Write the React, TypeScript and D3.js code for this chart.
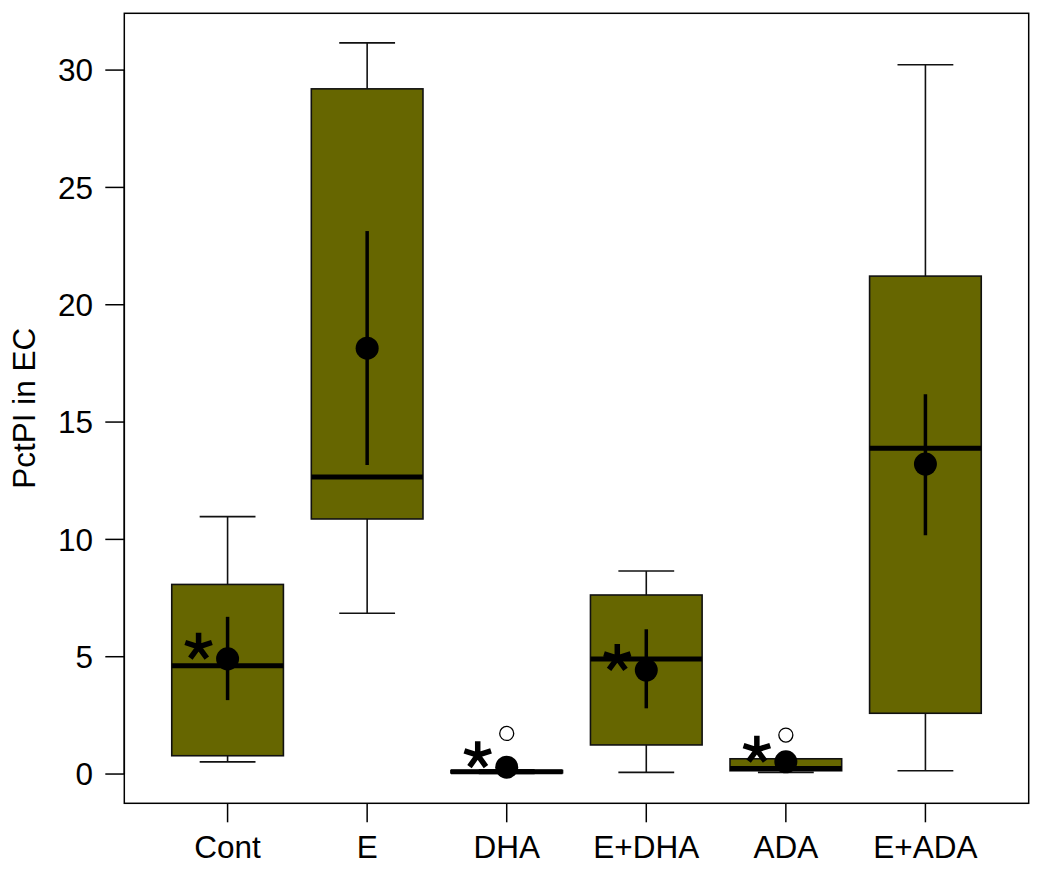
import React from "react";
import * as d3 from "d3";

const categories = ["Cont", "E", "DHA", "E+DHA", "ADA", "E+ADA"];
const whiskerLow = [0.52, 6.85, 0.02, 0.07, 0.07, 0.14];
const q1 = [0.78, 10.87, 0.05, 1.24, 0.14, 2.59];
const median = [4.62, 12.66, 0.1, 4.9, 0.24, 13.88];
const q3 = [8.08, 29.2, 0.15, 7.63, 0.65, 21.22];
const whiskerHigh = [10.97, 31.16, 0.18, 8.65, 0.65, 30.23];
const meanVals = [4.91, 18.15, 0.29, 4.43, 0.52, 13.21];
const errLow = [3.15, 13.17, 0.2, 2.8, 0.4, 10.18];
const errHigh = [6.7, 23.14, 0.38, 6.17, 0.64, 16.19];
const outliers: (number | null)[] = [null, null, 1.73, null, 1.66, null];
const starred = [true, false, true, true, true, false];
const yTicks = [0, 5, 10, 15, 20, 25, 30];

const FONT = "'Liberation Sans', Arial, Helvetica, sans-serif";
const OLIVE = "#666600";

export default function App() {
  const left = 124.3, right = 1028.7, top = 13.3, bottom = 803.3;
  const x = d3.scaleLinear().domain([0.26, 6.74]).range([left, right]);
  const y = d3.scaleLinear().domain([-1.247, 32.42]).range([bottom, top]);
  const bw = x(0.4) - x(0);
  const sw = x(0.2) - x(0);

  const starPath = (cx: number, cy: number) => {
    const r = 14;
    const angles = [90, 18, -54, -126, 162];
    return angles
      .map((a) => {
        const rad = (a * Math.PI) / 180;
        return `M${cx},${cy}L${cx + r * Math.cos(rad)},${cy - r * Math.sin(rad)}`;
      })
      .join("");
  };

  return (
    <svg
      width={1050}
      height={890}
      style={{ position: "absolute", left: 0, top: 0, background: "#fff" }}
      fontFamily={FONT}
    >
      {/* y axis */}
      <line x1={left} x2={left} y1={y(0)} y2={y(30)} stroke="#000" strokeWidth={1.5} />
      {yTicks.map((t) => (
        <g key={t}>
          <line x1={left - 19} x2={left} y1={y(t)} y2={y(t)} stroke="#000" strokeWidth={1.5} />
          <text x={93} y={y(t)} dy="0.36em" textAnchor="end" fontSize={31.5}>
            {t}
          </text>
        </g>
      ))}
      <text
        transform={`translate(35,${(top + bottom) / 2}) rotate(-90)`}
        textAnchor="middle"
        fontSize={31.5}
      >
        PctPI in EC
      </text>

      {/* x axis ticks & labels */}
      {categories.map((c, i) => (
        <g key={c}>
          <line x1={x(i + 1)} x2={x(i + 1)} y1={bottom} y2={bottom + 19} stroke="#000" strokeWidth={1.5} />
          <text x={x(i + 1)} y={858} textAnchor="middle" fontSize={31.5}>
            {c}
          </text>
        </g>
      ))}

      {/* boxes */}
      {categories.map((c, i) => {
        const cx = x(i + 1);
        return (
          <g key={"b" + c}>
            <line x1={cx} x2={cx} y1={y(q3[i])} y2={y(whiskerHigh[i])} stroke="#111" strokeWidth={1.6} />
            <line x1={cx} x2={cx} y1={y(q1[i])} y2={y(whiskerLow[i])} stroke="#111" strokeWidth={1.6} />
            <line x1={cx - sw} x2={cx + sw} y1={y(whiskerHigh[i])} y2={y(whiskerHigh[i])} stroke="#111" strokeWidth={1.6} />
            <line x1={cx - sw} x2={cx + sw} y1={y(whiskerLow[i])} y2={y(whiskerLow[i])} stroke="#111" strokeWidth={1.6} />
            <rect
              x={cx - bw}
              width={2 * bw}
              y={y(q3[i])}
              height={y(q1[i]) - y(q3[i])}
              fill={OLIVE}
              stroke="#111"
              strokeWidth={1.6}
            />
            <line x1={cx - bw} x2={cx + bw} y1={y(median[i])} y2={y(median[i])} stroke="#000" strokeWidth={5} />
          </g>
        );
      })}

      {/* means, error bars, stars, outliers */}
      {categories.map((c, i) => {
        const cx = x(i + 1);
        const my = y(meanVals[i]);
        const o = outliers[i];
        return (
          <g key={"m" + c}>
            <line x1={cx} x2={cx} y1={y(errLow[i])} y2={y(errHigh[i])} stroke="#000" strokeWidth={3.5} />
            <circle cx={cx} cy={my} r={11.5} fill="#000" />
            {starred[i] && (
              <path d={starPath(cx - 29, my - 12)} stroke="#000" strokeWidth={5.5} fill="none" />
            )}
            {o !== null && (
              <circle cx={cx} cy={y(o)} r={7} fill="none" stroke="#000" strokeWidth={1.3} />
            )}
          </g>
        );
      })}

      {/* frame */}
      <rect x={left} y={top} width={right - left} height={bottom - top} fill="none" stroke="#000" strokeWidth={1.5} />
    </svg>
  );
}
